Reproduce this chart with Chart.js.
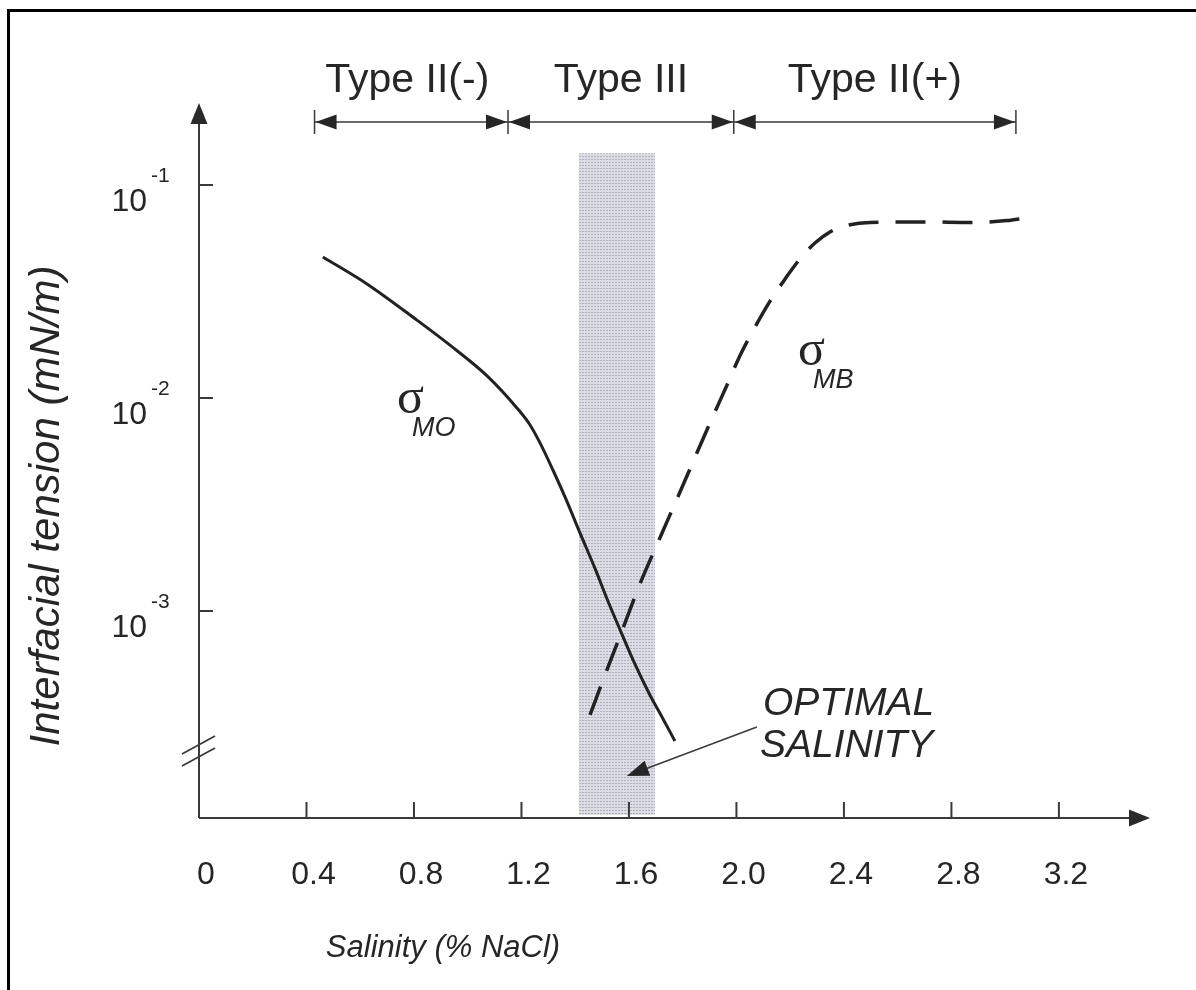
<!DOCTYPE html>
<html>
<head>
<meta charset="utf-8">
<script src="https://cdn.jsdelivr.net/npm/chart.js@4.4.0/dist/chart.umd.min.js"></script>
<style>
  html, body { margin: 0; padding: 0; background: #fff; }
  #wrap { position: relative; width: 1196px; height: 990px; }
  #frame { position: absolute; left: 7px; top: 9px; right: 0; bottom: 0; border-left: 3px solid #000; border-top: 3px solid #000; pointer-events: none; }
  canvas { display: block; }
</style>
</head>
<body>
<div id="wrap"><canvas id="chart" width="1196" height="990"></canvas><div id="frame"></div></div>
<script>
// axis ticks
const xTickValues = [0, 0.4, 0.8, 1.2, 1.6, 2.0, 2.4, 2.8, 3.2];
const yTickValues = [1e-3, 1e-2, 1e-1];
const yTickExponents = ['-3', '-2', '-1'];

// sigma MO (microemulsion / oil), solid
const salinityMO = [0.461, 0.625, 0.811, 0.934, 1.072, 1.183, 1.232, 1.269, 1.317, 1.362, 1.418, 1.474, 1.522, 1.567, 1.622, 1.678, 1.727, 1.771];
const tensionMO = [0.0459, 0.0343, 0.0232, 0.0177, 0.0127, 0.00898, 0.00747, 0.00615, 0.00459, 0.00343, 0.00232, 0.00158, 0.00111, 0.000815, 0.000564, 0.000403, 0.000311, 0.000245];

// sigma MB (microemulsion / brine), dashed
const salinityMB = [1.455, 1.511, 1.567, 1.641, 1.715, 1.790, 1.864, 1.920, 1.965, 2.013, 2.069, 2.125, 2.181, 2.236, 2.292, 2.348, 2.404, 2.497, 2.694, 2.880, 3.007, 3.074];
const tensionMB = [0.000325, 0.000501, 0.000763, 0.00134, 0.00220, 0.00362, 0.00595, 0.00860, 0.0115, 0.0158, 0.0215, 0.0285, 0.0362, 0.0449, 0.0534, 0.0602, 0.0642, 0.0667, 0.0671, 0.0667, 0.0681, 0.0700];

// phase regions along the top
const phaseBounds = [0.43, 1.15, 1.99, 3.04];
const phaseNames = ['Type II(-)', 'Type III', 'Type II(+)'];

// optimal salinity band
const optimalBand = [1.414, 1.697];
const optimalBandTop = 0.141;

const xMin = 0, xMax = 3.539;
const yMin = 1.066e-4, yMax = 0.2427;
const yBreak = 2.2e-4;

const INK = '#262626';
const SANS = '"Liberation Sans", Arial, Helvetica, sans-serif';

function arrowHead(ctx, tx, ty, dx, dy, len, half) {
  const bx = tx - dx * len, by = ty - dy * len;
  ctx.beginPath();
  ctx.moveTo(tx, ty);
  ctx.lineTo(bx - dy * half, by + dx * half);
  ctx.lineTo(bx + dy * half, by - dx * half);
  ctx.closePath();
  ctx.fill();
}

function bandPattern(ctx) {
  const c = document.createElement('canvas');
  c.width = 3; c.height = 3;
  const g = c.getContext('2d');
  g.fillStyle = '#dcdce4';
  g.fillRect(0, 0, 3, 3);
  g.fillStyle = '#b2b2c0';
  g.fillRect(0, 0, 2, 1);
  return ctx.createPattern(c, 'repeat');
}

const figurePlugin = {
  id: 'figure',
  beforeDatasetsDraw(chart) {
    const { ctx, scales: { x, y } } = chart;
    const l = x.getPixelForValue(optimalBand[0]);
    const r = x.getPixelForValue(optimalBand[1]);
    const t = y.getPixelForValue(optimalBandTop);
    const b = y.getPixelForValue(yMin) - 3;
    ctx.save();
    ctx.fillStyle = bandPattern(ctx);
    ctx.fillRect(l, t, r - l, b - t);
    ctx.restore();
  },
  afterDraw(chart) {
    const { ctx, chartArea: a, scales: { x, y } } = chart;
    const x0 = x.getPixelForValue(0);
    const yb = y.getPixelForValue(yMin);
    ctx.save();
    ctx.strokeStyle = '#3a3a3a';
    ctx.fillStyle = '#2a2a2a';
    ctx.lineWidth = 2;

    // axes
    ctx.beginPath();
    ctx.moveTo(x0, yb); ctx.lineTo(x0, a.top + 14);
    ctx.moveTo(x0, yb); ctx.lineTo(a.right - 14, yb);
    ctx.stroke();
    arrowHead(ctx, x0, a.top, 0, -1, 21, 8.5);
    arrowHead(ctx, a.right, yb, 1, 0, 21, 8.5);

    // x ticks (inside)
    ctx.beginPath();
    xTickValues.forEach(v => {
      if (v === 0) return;
      const px = x.getPixelForValue(v);
      ctx.moveTo(px, yb); ctx.lineTo(px, yb - 16);
    });
    // y ticks (inside)
    yTickValues.forEach(v => {
      const py = y.getPixelForValue(v);
      ctx.moveTo(x0, py); ctx.lineTo(x0 + 14, py);
    });
    ctx.stroke();

    // y tick labels 10^n
    ctx.fillStyle = INK;
    yTickValues.forEach((v, i) => {
      const py = y.getPixelForValue(v);
      ctx.font = '32px ' + SANS;
      ctx.textAlign = 'right';
      ctx.textBaseline = 'alphabetic';
      ctx.fillText('10', x0 - 52, py + 26);
      ctx.font = '21px ' + SANS;
      ctx.textAlign = 'left';
      ctx.fillText(yTickExponents[i], x0 - 48, py - 3);
    });

    // axis break
    const pb = y.getPixelForValue(yBreak);
    ctx.lineWidth = 1.8;
    ctx.beginPath();
    [-6, 6].forEach(o => {
      ctx.moveTo(x0 - 17, pb + o + 9);
      ctx.lineTo(x0 + 16, pb + o - 9);
    });
    ctx.stroke();

    // phase arrows on top
    const rowY = 122;
    ctx.lineWidth = 1.5;
    ctx.beginPath();
    phaseBounds.forEach(v => {
      const px = x.getPixelForValue(v);
      ctx.moveTo(px, rowY - 12); ctx.lineTo(px, rowY + 12);
    });
    ctx.moveTo(x.getPixelForValue(phaseBounds[0]), rowY);
    ctx.lineTo(x.getPixelForValue(phaseBounds[phaseBounds.length - 1]), rowY);
    ctx.stroke();
    ctx.font = '41px ' + SANS;
    ctx.textAlign = 'center';
    ctx.textBaseline = 'alphabetic';
    phaseNames.forEach((name, i) => {
      const pl = x.getPixelForValue(phaseBounds[i]);
      const pr = x.getPixelForValue(phaseBounds[i + 1]);
      arrowHead(ctx, pl + 1, rowY, -1, 0, 21, 7.5);
      arrowHead(ctx, pr - 1, rowY, 1, 0, 21, 7.5);
      ctx.fillText(name, (pl + pr) / 2 - (i === 0 ? 4 : 0), 92);
    });

    // sigma labels
    const sigma = (sx, sy, sub) => {
      const px = x.getPixelForValue(sx), py = y.getPixelForValue(sy);
      ctx.textAlign = 'left';
      ctx.font = '50px "Liberation Serif", "Times New Roman", serif';
      ctx.fillText('σ', px, py);
      ctx.font = 'italic 27px ' + SANS;
      ctx.fillText(sub, px + 15, py + 23);
    };
    sigma(0.737, 8.5e-3, 'MO');
    sigma(2.229, 1.43e-2, 'MB');

    // optimal salinity annotation
    ctx.font = 'italic 39px ' + SANS;
    ctx.textAlign = 'left';
    ctx.fillText('OPTIMAL', 763, 715);
    ctx.fillText('SALINITY', 760, 757);
    const ax1 = x.getPixelForValue(2.076), ay1 = y.getPixelForValue(2.85e-4);
    const ax2 = x.getPixelForValue(1.592), ay2 = y.getPixelForValue(1.68e-4);
    const len = Math.hypot(ax2 - ax1, ay2 - ay1);
    const ux = (ax2 - ax1) / len, uy = (ay2 - ay1) / len;
    ctx.lineWidth = 1.5;
    ctx.beginPath();
    ctx.moveTo(ax1, ay1); ctx.lineTo(ax2 - ux * 14, ay2 - uy * 14);
    ctx.stroke();
    arrowHead(ctx, ax2, ay2, ux, uy, 22, 8);

    // axis titles
    ctx.font = 'italic 31px ' + SANS;
    ctx.textAlign = 'center';
    ctx.fillText('Salinity (% NaCl)', 443, 957);
    ctx.translate(59, 506);
    ctx.rotate(-Math.PI / 2);
    ctx.font = 'italic 42px ' + SANS;
    ctx.fillText('Interfacial tension (mN/m)', 0, 0);
    ctx.restore();
  }
};

new Chart(document.getElementById('chart').getContext('2d'), {
  type: 'line',
  data: {
    datasets: [
      {
        label: 'σMO',
        data: salinityMO.map((s, i) => ({ x: s, y: tensionMO[i] })),
        borderColor: '#222',
        borderWidth: 3,
        pointRadius: 0,
        cubicInterpolationMode: 'monotone',
        fill: false
      },
      {
        label: 'σMB',
        data: salinityMB.map((s, i) => ({ x: s, y: tensionMB[i] })),
        borderColor: '#222',
        borderWidth: 3.5,
        borderDash: [30, 17],
        pointRadius: 0,
        cubicInterpolationMode: 'monotone',
        fill: false
      }
    ]
  },
  options: {
    responsive: false,
    animation: false,
    layout: { padding: { left: 199, right: 46, top: 103, bottom: 0 } },
    plugins: { legend: { display: false }, tooltip: { enabled: false } },
    scales: {
      x: {
        type: 'linear',
        min: xMin,
        max: xMax,
        grid: { display: false, drawTicks: false },
        border: { display: false },
        afterBuildTicks: s => { s.ticks = xTickValues.map(v => ({ value: v })); },
        afterFit: s => { s.height = 172; },
        ticks: {
          color: INK,
          font: { family: SANS, size: 32 },
          padding: 38,
          labelOffset: 7,
          maxRotation: 0,
          callback: v => v === 0 ? '0' : v.toFixed(1)
        }
      },
      y: {
        type: 'logarithmic',
        display: false,
        min: yMin,
        max: yMax
      }
    }
  },
  plugins: [figurePlugin]
});
</script>
</body>
</html>
